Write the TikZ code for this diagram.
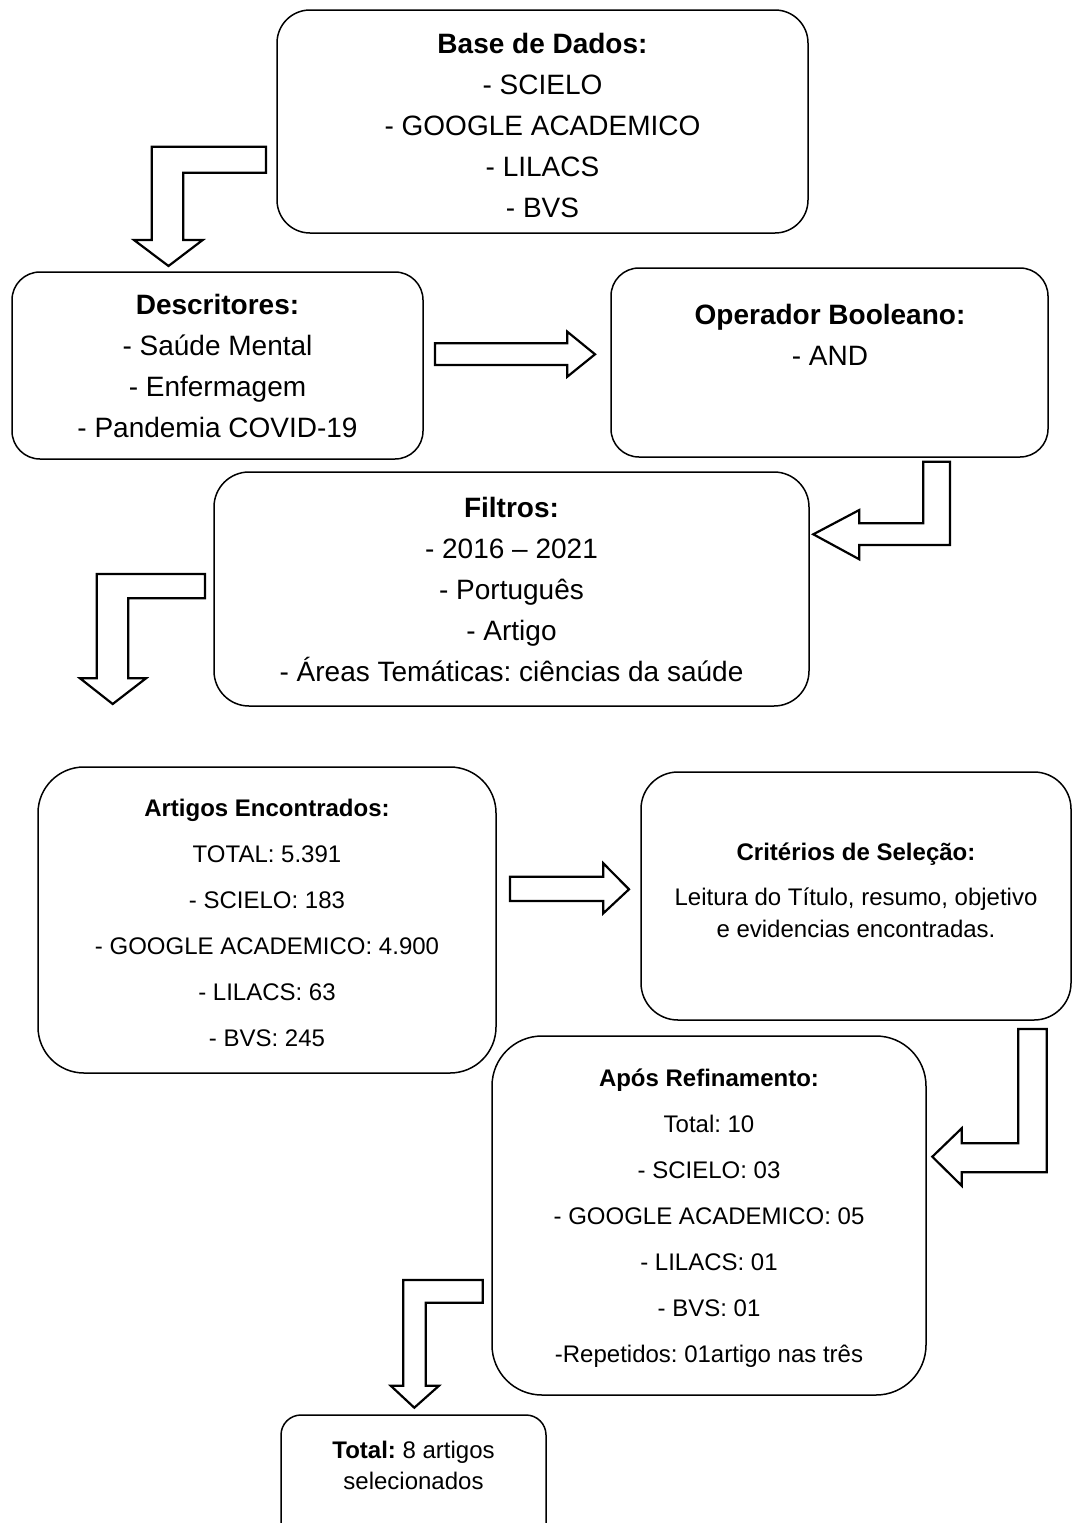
\documentclass[tikz,border=0pt]{standalone}
\usepackage{fontspec}
\setmainfont{Liberation Sans}
\frenchspacing
\usetikzlibrary{positioning}
\begin{document}
\begin{tikzpicture}[x=1pt,y=-1pt,
    box/.style={draw,line width=1.5pt,rounded corners=#1,align=center,inner sep=0pt},
    box/.default=30,
    big/.style={font=\fontsize{28}{41}\selectfont},
    small/.style={font=\fontsize{24}{46}\selectfont},
    txt/.style={align=center,inner sep=0pt},
    bigarrow/.style={draw,line width=2.2pt,fill=white,line join=miter}
]
\useasboundingbox (0,0) rectangle (1072,1523);
\clip (0,0) rectangle (1072,1523);
\node[box=33,big,minimum width=531,minimum height=223] (base) at (542.5,121.5) {};
\node[txt,big] (basetxt) at (542.5,125)
    {\textbf{Base de Dados:}\\- SCIELO\\- GOOGLE ACADEMICO\\- LILACS\\- BVS};
\node[box=28,big,minimum width=411,minimum height=187] (desc) at (217.5,365.5)
    {\textbf{Descritores:}\\- Saúde Mental\\- Enfermagem\\- Pandemia COVID-19};
\node[box=28,minimum width=437,minimum height=189] (oper) at (829.5,362.5) {};
\node[txt,big] (opertxt) at (830,335) {\textbf{Operador Booleano:}\\- AND};
\node[box=35,big,minimum width=595,minimum height=234] (filt) at (511.5,589)
    {\textbf{Filtros:}\\- 2016 -- 2021\\- Português\\- Artigo\\- Áreas Temáticas: ciências da saúde};
\node[box=46,minimum width=458,minimum height=306] (art) at (267,920) {};
\node[txt,small] (arttxt) at (267,923)
    {\textbf{Artigos Encontrados:}\\TOTAL: 5.391\\- SCIELO: 183\\- GOOGLE ACADEMICO: 4.900\\- LILACS: 63\\- BVS: 245};
\node[box=37,minimum width=430,minimum height=248] (crit) at (856,896) {};
\node[txt,font=\fontsize{24}{32}\selectfont] (crittxt) at (856,890)
    {\textbf{Critérios de Seleção:}\\[13pt]Leitura do Título, resumo, objetivo\\e evidencias encontradas.};
\node[box=50,minimum width=434,minimum height=359] (apos) at (709,1215.5) {};
\node[txt,small] (apostxt) at (709,1218)
    {\textbf{Após Refinamento:}\\Total: 10\\- SCIELO: 03\\- GOOGLE ACADEMICO: 05\\- LILACS: 01\\- BVS: 01\\-Repetidos: 01artigo nas três};
\node[box=20,minimum width=265,minimum height=133] (total) at (413.5,1481.5) {};
\node[txt,font=\fontsize{24}{31}\selectfont] (totaltxt) at (413.5,1465)
    {\textbf{Total:} 8 artigos\\selecionados};
\draw[bigarrow] (266,146.7) -- (151.7,146.7) -- (151.7,240) -- (134,240) -- (168.5,266)
    -- (202.7,240) -- (183.3,240) -- (183.3,172.7) -- (266,172.7) -- cycle;
\draw[bigarrow] (435,343.3) -- (567.3,343.3) -- (567.3,331.7) -- (595,354.3)
    -- (567.3,376.7) -- (567.3,365) -- (435,365) -- cycle;
\draw[bigarrow] (923.3,461.7) -- (950,461.7) -- (950,545) -- (859.3,545) -- (859.3,559.3)
    -- (813.3,534.3) -- (859.3,510) -- (859.3,523.3) -- (923.3,523.3) -- cycle;
\draw[bigarrow] (205,574) -- (96.7,574) -- (96.7,678.3) -- (80,678.3) -- (112.7,704)
    -- (146,678.3) -- (128.3,678.3) -- (128.3,598.3) -- (205,598.3) -- cycle;
\draw[bigarrow] (510,876.7) -- (603.3,876.7) -- (603.3,863.3) -- (629,889.3)
    -- (603.3,913.3) -- (603.3,901) -- (510,901) -- cycle;
\draw[bigarrow] (1018.3,1029) -- (1046.7,1029) -- (1046.7,1172.3) -- (961.7,1172.3) -- (961.7,1185.7)
    -- (932.3,1156.7) -- (961.7,1128.3) -- (961.7,1143.3) -- (1018.3,1143.3) -- cycle;
\draw[bigarrow] (482.7,1280) -- (403.3,1280) -- (403.3,1385.7) -- (390.7,1385.7) -- (414.3,1407.7)
    -- (439,1385.7) -- (425.7,1385.7) -- (425.7,1302.7) -- (482.7,1302.7) -- cycle;
\end{tikzpicture}
\end{document}
